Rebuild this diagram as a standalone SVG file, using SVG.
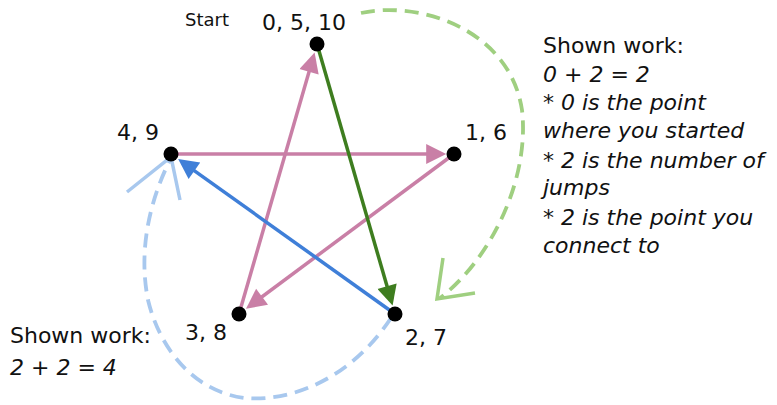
<svg xmlns="http://www.w3.org/2000/svg" width="777" height="405" viewBox="0 0 777 405">
<defs>
<style>
text{font-family:"DejaVu Sans","Liberation Sans",sans-serif;fill:#111}
.lbl{font-size:22px}
.it{font-style:italic}
.edge{fill:none;stroke-width:3.5}
.dash{fill:none;stroke-width:3.8;stroke-dasharray:14 8}
.dot{fill:#000}
</style>
<marker id="ahPink" viewBox="0 0 10 10" refX="6.4" refY="5" markerUnits="userSpaceOnUse" markerWidth="23" markerHeight="20" orient="auto"><path d="M0,0 L10,5 L0,10 Z" fill="#c97fa6"/></marker>
<marker id="ahGreen" viewBox="0 0 10 10" refX="6.4" refY="5" markerUnits="userSpaceOnUse" markerWidth="23" markerHeight="20" orient="auto"><path d="M0,0 L10,5 L0,10 Z" fill="#3e7d1f"/></marker>
<marker id="ahBlue" viewBox="0 0 10 10" refX="6.4" refY="5" markerUnits="userSpaceOnUse" markerWidth="23" markerHeight="20" orient="auto"><path d="M0,0 L10,5 L0,10 Z" fill="#3f7fd8"/></marker>
</defs>
<g id="connectors">
<line class="edge" x1="171" y1="154" x2="439" y2="154" stroke="#c97fa6" marker-end="url(#ahPink)"/>
<line class="edge" x1="454" y1="154" x2="251.8" y2="304.4" stroke="#c97fa6" marker-end="url(#ahPink)"/>
<line class="edge" x1="239" y1="314" x2="312.6" y2="59.4" stroke="#c97fa6" marker-end="url(#ahPink)"/>
<line class="edge" x1="317" y1="44" x2="390.6" y2="298.6" stroke="#3e7d1f" marker-end="url(#ahGreen)"/>
<line class="edge" x1="395" y1="314" x2="184" y2="163.3" stroke="#3f7fd8" marker-end="url(#ahBlue)"/>
<path class="dash" stroke="#9fcf80" d="M361,13 C420,0 510,30 522,110 C530,180 490,260 440,298"/>
<path class="edge" stroke="#9fcf80" d="M443,258 L437,299 L475,293"/>
<path class="dash" stroke="#a8c8ee" d="M391,318 C350,380 290,402 245,398 C195,392 160,350 148,300 C138,250 150,200 170,160"/>
<path class="edge" stroke="#a8c8ee" d="M127,192 L171,157 L180,200"/>
</g>
<g id="node-0"><circle class="dot" cx="317" cy="44" r="7.5"/><text class="lbl" x="262" y="30">0, 5, 10</text><text x="185" y="26" font-size="18">Start</text></g>
<g id="node-1"><circle class="dot" cx="454" cy="154" r="7.5"/><text class="lbl" x="465" y="140">1, 6</text></g>
<g id="node-2"><circle class="dot" cx="395" cy="314" r="7.5"/><text class="lbl" x="405" y="345">2, 7</text></g>
<g id="node-3"><circle class="dot" cx="239" cy="314" r="7.5"/><text class="lbl" x="185" y="340">3, 8</text></g>
<g id="node-4"><circle class="dot" cx="171" cy="154" r="7.5"/><text class="lbl" x="117" y="140">4, 9</text></g>
<g id="work-right">
<text class="lbl" x="543" y="53">Shown work:</text>
<text class="lbl it" x="543" y="82">0 + 2 = 2</text>
<text class="lbl it" x="543" y="110">* 0 is the point</text>
<text class="lbl it" x="543" y="138">where you started</text>
<text class="lbl it" x="543" y="168">* 2 is the number of</text>
<text class="lbl it" x="543" y="195">jumps</text>
<text class="lbl it" x="543" y="225">* 2 is the point you</text>
<text class="lbl it" x="543" y="253">connect to</text>
</g>
<g id="work-left">
<text class="lbl" x="10" y="343" font-size="21">Shown work:</text>
<text class="lbl it" x="10" y="375">2 + 2 = 4</text>
</g>
</svg>
